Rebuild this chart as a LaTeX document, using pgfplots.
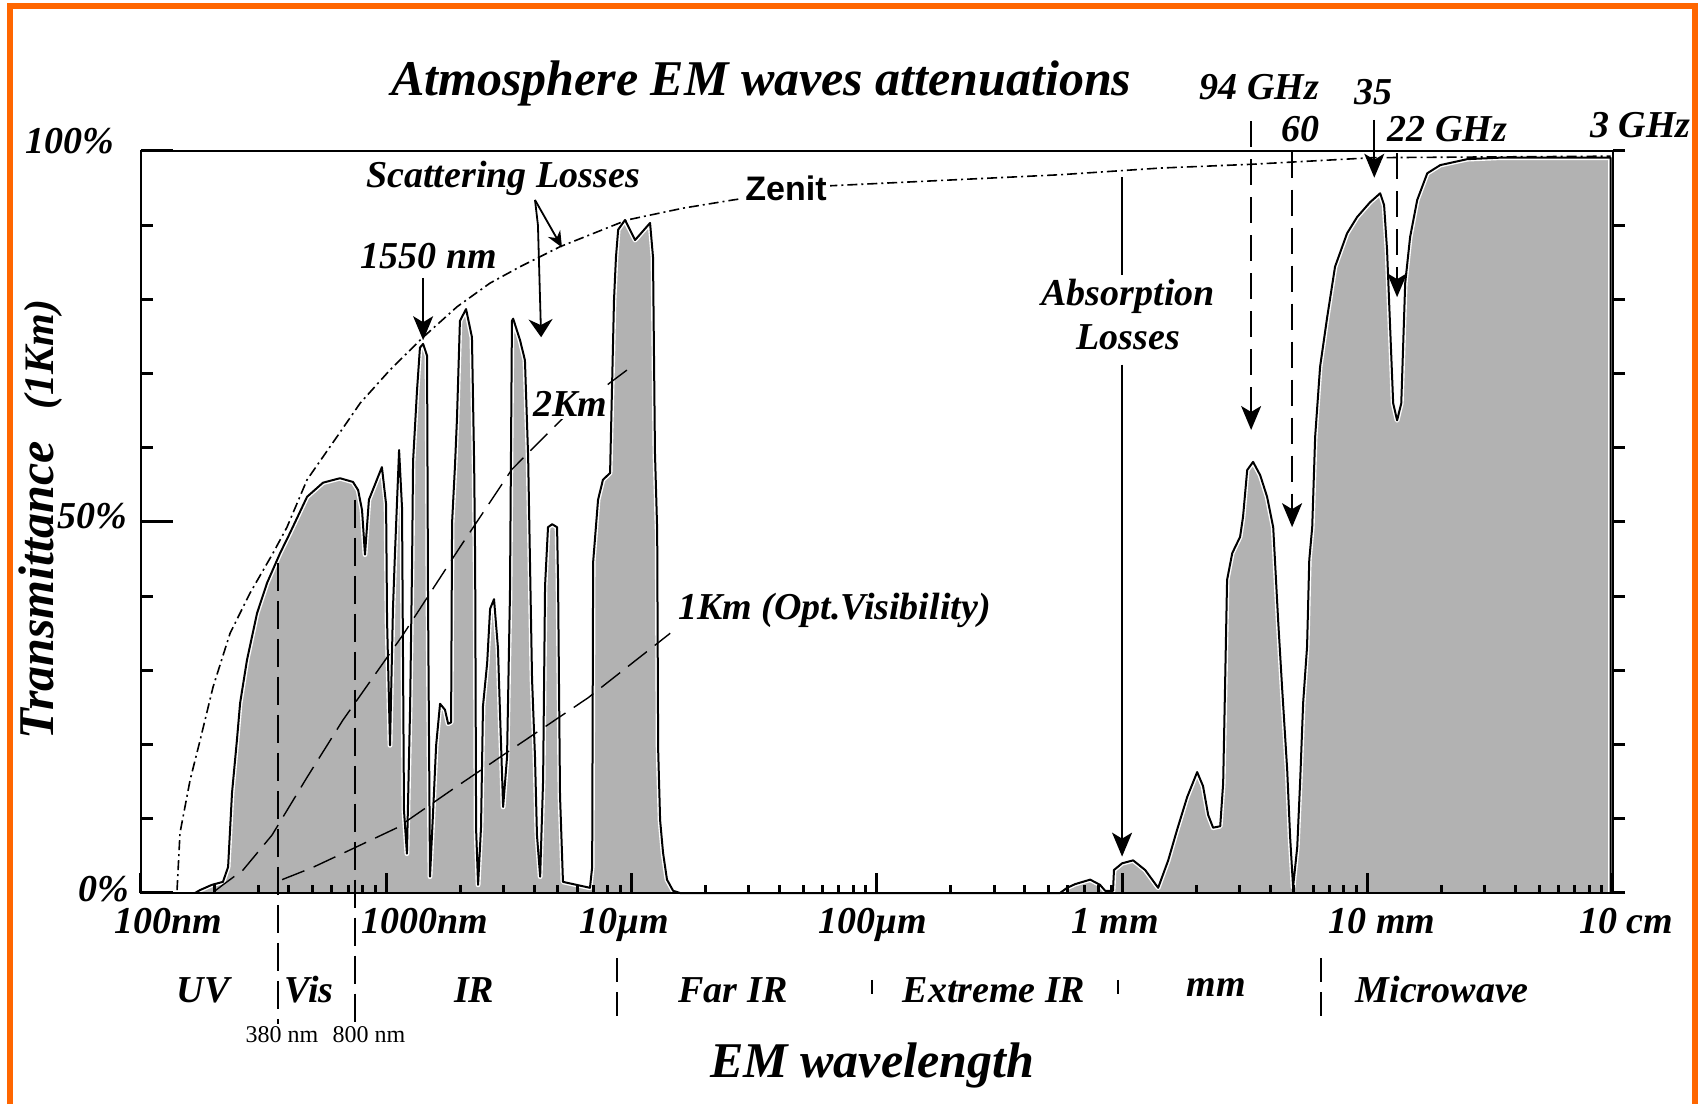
\documentclass[border=0pt]{standalone}
\usepackage{pgfplots}
\pgfplotsset{compat=1.18}
\usepackage{pgfplotstable}
\usepackage{fontspec}
\setmainfont{Liberation Serif}
\newfontfamily\sansfnt{Liberation Sans}
\usetikzlibrary{arrows.meta}
\definecolor{frameorange}{RGB}{255,102,0}
\definecolor{fillgray}{RGB}{178,178,178}
\newcommand{\lab}{\bfseries\itshape\fontsize{19}{22}\selectfont}

% transmittance through 1 km (x = log10 of wavelength in nm, y = %)
\pgfplotstableread{
x y
2.220 0
2.241 0.4
2.289 1.1
2.334 1.5
2.355 3.5
2.371 13.5
2.391 20.6
2.404 25.6
2.432 31.4
2.473 37.7
2.514 41.8
2.567 45.8
2.607 48.5
2.677 53.4
2.742 55.3
2.811 55.9
2.864 55.4
2.885 54.3
2.901 51.6
2.913 45.6
2.929 53.0
2.982 57.4
2.999 52.4
3.003 36.7
3.015 19.9
3.027 38.3
3.035 45.6
3.052 59.7
3.064 51.9
3.072 11.1
3.084 5.3
3.097 25.2
3.105 44.6
3.109 58.2
3.125 67.7
3.137 73.5
3.150 74.0
3.166 72.4
3.170 39.4
3.178 2.2
3.190 10.5
3.203 19.9
3.219 25.5
3.239 24.7
3.252 22.8
3.264 23.0
3.268 49.9
3.280 57.7
3.288 64.0
3.300 77.1
3.325 78.7
3.349 74.9
3.358 57.7
3.362 44.9
3.366 8.5
3.374 1.1
3.386 8.9
3.394 25.2
3.411 31.0
3.423 38.3
3.439 39.6
3.455 33.0
3.464 23.6
3.476 11.6
3.492 18.3
3.504 40.4
3.512 77.1
3.517 77.4
3.545 74.5
3.565 71.8
3.578 58.8
3.594 28.8
3.606 18.3
3.614 7.8
3.627 2.2
3.639 15.2
3.647 41.4
3.659 49.3
3.676 49.7
3.696 49.3
3.700 41.9
3.708 13.1
3.720 1.5
3.830 0.7
3.839 3.5
3.843 44.6
3.863 53.0
3.883 55.7
3.912 56.6
3.920 68.2
3.928 79.9
3.936 85.7
3.945 89.4
3.973 90.7
4.014 88.0
4.075 90.3
4.087 85.7
4.095 59.3
4.104 48.9
4.108 19.3
4.116 9.8
4.128 5.4
4.144 1.8
4.169 0.3
4.197 0
5.746 0
5.775 0.7
5.808 1.2
5.869 1.8
5.909 1.1
5.930 0.3
5.962 0.3
5.966 3.1
5.999 4.0
6.044 4.4
6.093 3.1
6.146 0.7
6.187 4.4
6.223 8.5
6.264 12.9
6.305 16.3
6.329 14.4
6.350 10.5
6.370 8.8
6.399 9.0
6.411 14.8
6.419 28.3
6.427 42.2
6.448 45.8
6.480 48.0
6.492 50.7
6.509 57.0
6.533 58.1
6.562 56.3
6.590 53.4
6.615 49.3
6.635 36.8
6.651 27.8
6.672 16.6
6.684 7.5
6.696 0.8
6.713 6.2
6.725 15.2
6.737 25.6
6.753 33.2
6.762 44.9
6.774 49.3
6.786 61.5
6.806 70.9
6.835 77.6
6.867 84.4
6.916 88.9
6.957 91.1
7.010 93.1
7.051 94.3
7.067 92.7
7.079 86.7
7.092 75.9
7.104 66.0
7.120 63.7
7.137 66.0
7.153 82.2
7.173 88.4
7.202 93.4
7.243 97.0
7.296 98.1
7.406 98.9
7.540 99.1
7.990 99.1
7.990 0
}\transm

\pgfplotstableread{
x y
2.147 0.4
2.159 8.1
2.200 15.2
2.241 20.6
2.294 27.8
2.363 35.0
2.444 40.4
2.538 45.8
2.595 49.3
2.677 55.7
2.799 61.5
2.893 66.0
3.015 70.5
3.150 74.9
3.288 79.0
3.423 82.2
3.545 84.4
3.708 87.1
3.981 90.7
4.210 92.3
4.413 93.4
4.801 95.3
5.746 96.8
6.154 97.7
6.521 98.2
7.022 99.1
7.990 99.3
}\zenith

\pgfplotstableread{
x y
2.302 0.3
2.334 1.1
2.416 3.1
2.534 7.8
2.677 15.6
2.823 23.3
3.068 34.8
3.300 46.6
3.512 57.1
3.720 64.0
4.002 71.0
}\twokm

\pgfplotstableread{
x y
2.575 1.8
2.697 3.4
2.852 5.8
3.044 8.8
3.280 14.2
3.557 20.4
3.822 26.3
4.157 35.0
}\onekm

\begin{document}
\begin{tikzpicture}
\useasboundingbox (0,0) rectangle (849pt,552pt);
\fill[white] (0,0) rectangle (849pt,552pt);
\draw[frameorange, line width=3pt] (5pt,0) -- (5pt,549pt) -- (847.5pt,549pt) -- (847.5pt,0);

% left y ticks (inside)
\begin{axis}[at={(70.5pt,105.5pt)}, anchor=south west, scale only axis,
  width=736pt, height=371pt, xmin=2, xmax=8, ymin=0, ymax=100,
  axis x line=none, axis y line*=left, axis line style={-, line width=1.4pt},
  ytick={0,50,100}, minor ytick={10,20,30,40,60,70,80,90}, yticklabels={},
  tick align=inside, major tick length=16pt, minor tick length=6pt,
  tick style={line width=1.5pt, black}]
\end{axis}

% right y ticks (outside)
\begin{axis}[at={(70.5pt,105.5pt)}, anchor=south west, scale only axis,
  width=736pt, height=371pt, xmin=2, xmax=8, ymin=0, ymax=100,
  axis x line=none, axis y line*=right, axis line style={-, line width=1.2pt},
  ytick={0,10,...,100}, yticklabels={},
  tick align=outside, major tick length=6pt,
  tick style={line width=1.5pt, black}]
\end{axis}

\begin{axis}[at={(70.5pt,105.5pt)}, anchor=south west, scale only axis,
  width=736pt, height=371pt, xmin=2, xmax=8, ymin=0, ymax=100,
  clip=false, axis on top, no markers,
  axis line style={line width=1.2pt},
  xtick={2,3,4,5,6,7,8}, xticklabels={}, xtick pos=left,
  minor xtick={2.301,2.477,2.602,2.699,2.778,2.845,2.903,2.954,
               3.301,3.477,3.602,3.699,3.778,3.845,3.903,3.954,
               4.301,4.477,4.602,4.699,4.778,4.845,4.903,4.954,
               5.301,5.477,5.602,5.699,5.778,5.845,5.903,5.954,
               6.301,6.477,6.602,6.699,6.778,6.845,6.903,6.954,
               7.301,7.477,7.602,7.699,7.778,7.845,7.903,7.954},
  ytick=\empty,
  tick align=inside, major tick length=10pt, minor tick length=4pt,
  tick style={line width=1.5pt, black}]

\addplot[fill=fillgray, draw=none] table {\transm} \closedcycle;
\addplot[white, line width=2.4pt, line join=round] table {\transm};
\addplot[black, line width=1pt, line join=round] table {\transm};

% 380 nm and 800 nm boundaries
\draw[black, line width=1pt, dash pattern=on 14pt off 5pt] (axis cs:2.558,44.5) -- (axis cs:2.558,-17.7);
\draw[black, line width=1pt, dash pattern=on 14pt off 5pt] (axis cs:2.872,53) -- (axis cs:2.872,-17.7);

\addplot[black, line width=0.8pt, dash pattern=on 5pt off 2pt on 1pt off 2pt] table {\zenith};
\addplot[black, line width=0.7pt, dash pattern=on 12pt off 5pt] table {\twokm};
\addplot[black, line width=0.7pt, dash pattern=on 12pt off 5pt] table {\onekm};

% annotations
\node[anchor=base, font=\bfseries\itshape\fontsize{25}{30}\selectfont] at (axis cs:4.528,107.5) {Atmosphere EM waves attenuations};
\node[anchor=base, font=\lab] at (axis cs:3.476,95.1) {Scattering Losses};
\draw[line width=0.9pt, -{Stealth[length=8pt,width=7pt]}] (axis cs:3.606,93.4) -- (axis cs:3.716,87.0);
\draw[line width=0.9pt, -{Stealth[length=9pt,width=12pt]}] (axis cs:3.606,93.4) -- (axis cs:3.618,90.0) -- (axis cs:3.631,74.9);
\node[anchor=base, font=\lab] at (axis cs:3.174,84.1) {1550 nm};
\draw[line width=0.9pt, -{Stealth[length=12pt,width=10pt,inset=3pt]}] (axis cs:3.150,82.9) -- (axis cs:3.150,74.5);
\node[anchor=base, font=\lab, fill=white, inner sep=1pt] at (axis cs:3.749,64.2) {2Km};
\node[anchor=base west, font=\lab] at (axis cs:4.161,36.8) {1Km (Opt.Visibility)};
\node[anchor=base, font=\sansfnt\bfseries\fontsize{17}{20}\selectfont, fill=white, inner sep=1.5pt] at (axis cs:4.629,93.3) {Zenit};

\node[anchor=base, font=\lab] at (axis cs:6.024,79.2) {Absorption};
\node[anchor=base, font=\lab] at (axis cs:6.024,73.3) {Losses};
\draw[line width=0.9pt] (axis cs:5.999,96.5) -- (axis cs:5.999,83.3);
\draw[line width=0.9pt, -{Stealth[length=12pt,width=10pt,inset=3pt]}] (axis cs:5.999,71.2) -- (axis cs:5.999,4.9);

\node[anchor=base, font=\lab] at (axis cs:6.558,106.9) {94 GHz};
\node[anchor=base, font=\lab] at (axis cs:6.725,101.3) {60};
\node[anchor=base, font=\lab] at (axis cs:7.022,106.2) {35};
\node[anchor=base, font=\lab] at (axis cs:7.324,101.3) {22 GHz};
\node[anchor=base, font=\lab] at (axis cs:8.111,101.8) {3 GHz};
\draw[line width=0.9pt, dash pattern=on 13pt off 6pt, -{Stealth[length=12pt,width=10pt,inset=3pt]}] (axis cs:6.525,104.0) -- (axis cs:6.525,62.4);
\draw[line width=0.9pt, dash pattern=on 13pt off 6pt, -{Stealth[length=12pt,width=10pt,inset=3pt]}] (axis cs:6.692,99.9) -- (axis cs:6.692,49.3);
\draw[line width=0.9pt, -{Stealth[length=12pt,width=10pt,inset=3pt]}] (axis cs:7.027,104.2) -- (axis cs:7.027,96.4);
\draw[line width=0.9pt, dash pattern=on 13pt off 6pt, -{Stealth[length=12pt,width=10pt,inset=3pt]}] (axis cs:7.120,99.7) -- (axis cs:7.120,80.3);

% y tick labels
\node[anchor=base east, font=\lab] at (axis cs:1.918,99.6) {100\%};
\node[anchor=base east, font=\lab] at (axis cs:1.971,49.1) {50\%};
\node[anchor=base east, font=\lab] at (axis cs:1.980,-1.1) {0\%};

% x tick labels
\node[anchor=base, font=\lab] at (axis cs:2.110,-5.5) {100nm};
\node[anchor=base, font=\lab] at (axis cs:3.158,-5.5) {1000nm};
\node[anchor=base, font=\lab] at (axis cs:3.969,-5.5) {10µm};
\node[anchor=base, font=\lab] at (axis cs:4.984,-5.5) {100µm};
\node[anchor=base, font=\lab] at (axis cs:5.971,-5.5) {1 mm};
\node[anchor=base, font=\lab] at (axis cs:7.059,-5.5) {10 mm};
\node[anchor=base, font=\lab] at (axis cs:8.054,-5.5) {10 cm};

% bands
\node[anchor=base, font=\lab] at (axis cs:2.253,-14.7) {UV};
\node[anchor=base, font=\lab] at (axis cs:2.685,-14.7) {Vis};
\node[anchor=base, font=\lab] at (axis cs:3.358,-14.7) {IR};
\node[anchor=base, font=\lab] at (axis cs:4.413,-14.7) {Far IR};
\node[anchor=base, font=\lab] at (axis cs:5.477,-14.7) {Extreme IR};
\node[anchor=base, font=\lab] at (axis cs:6.382,-14.0) {mm};
\node[anchor=base, font=\lab] at (axis cs:7.304,-14.7) {Microwave};
\draw[line width=0.9pt, dash pattern=on 12pt off 5pt] (axis cs:3.940,-8.8) -- (axis cs:3.940,-17.7);
\draw[line width=0.9pt] (axis cs:4.980,-11.7) -- (axis cs:4.980,-13.6);
\draw[line width=0.9pt] (axis cs:5.983,-11.7) -- (axis cs:5.983,-13.6);
\draw[line width=0.9pt, dash pattern=on 12pt off 5pt] (axis cs:6.810,-8.8) -- (axis cs:6.810,-17.7);
\node[anchor=base, font=\fontsize{12}{14}\selectfont] at (axis cs:2.575,-20.2) {380 nm};
\node[anchor=base, font=\fontsize{12}{14}\selectfont] at (axis cs:2.929,-20.2) {800 nm};

\node[anchor=base, font=\bfseries\itshape\fontsize{25}{30}\selectfont] at (axis cs:4.980,-24.9) {EM wavelength};
\node[anchor=base, rotate=90, font=\bfseries\itshape] at (axis cs:1.645,50.3)
  {{\fontsize{25}{30}\selectfont Transmittance}\hspace{16pt}{\fontsize{21}{25}\selectfont (1Km)}};
\end{axis}
\end{tikzpicture}
\end{document}
